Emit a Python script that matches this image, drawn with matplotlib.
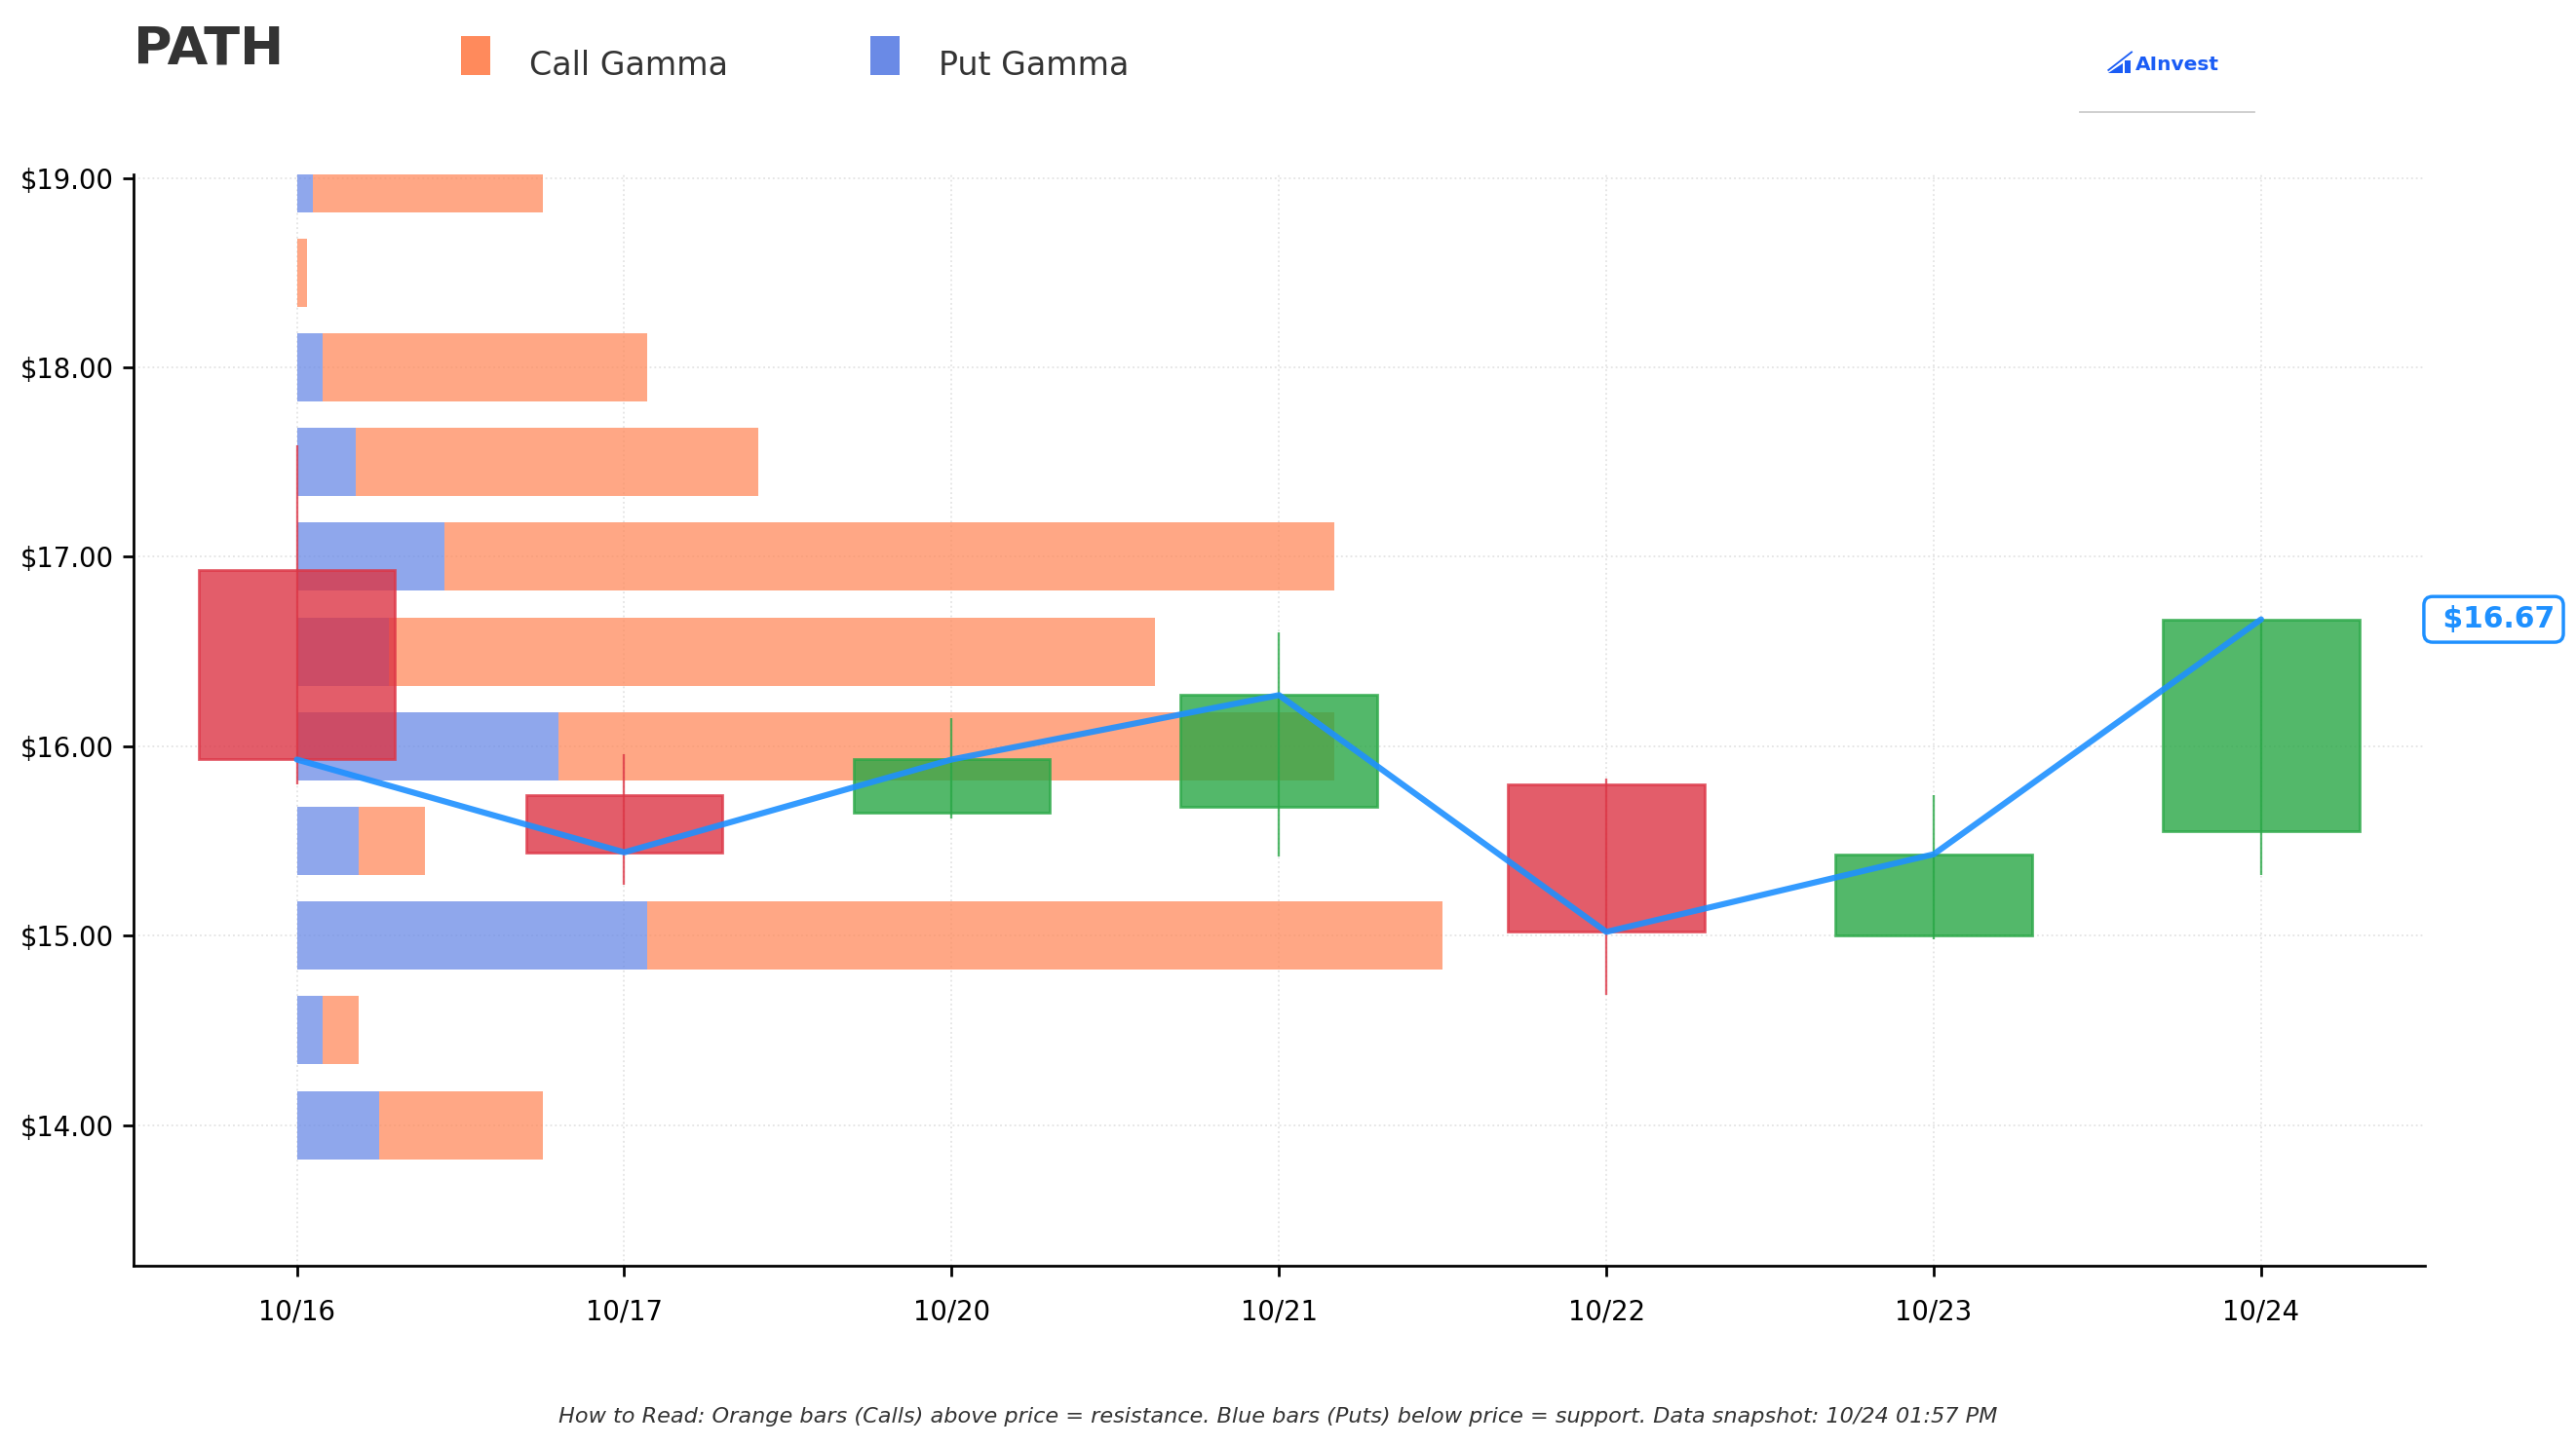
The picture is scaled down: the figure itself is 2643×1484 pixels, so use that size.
import matplotlib
matplotlib.use("Agg")
import matplotlib.pyplot as plt
import matplotlib.transforms as mtransforms
from matplotlib.patches import Patch, Rectangle, Polygon
from matplotlib.lines import Line2D
from matplotlib.legend_handler import HandlerPatch

# ---------------- data ----------------
dates = ["10/16", "10/17", "10/20", "10/21", "10/22", "10/23", "10/24"]
opens = [16.93, 15.74, 15.65, 15.68, 15.80, 15.00, 15.55]
highs = [17.59, 15.96, 16.15, 16.60, 15.83, 15.74, 16.67]
lows = [15.80, 15.27, 15.62, 15.42, 14.69, 14.98, 15.32]
closes = [15.93, 15.44, 15.93, 16.27, 15.02, 15.43, 16.67]

strikes = [19.0, 18.5, 18.0, 17.5, 17.0, 16.5, 16.0, 15.5, 15.0, 14.5, 14.0]
put_gamma = [0.05, 0.00, 0.08, 0.18, 0.45, 0.28, 0.80, 0.19, 1.07, 0.08, 0.25]
call_gamma = [0.70, 0.03, 0.99, 1.23, 2.72, 2.34, 2.37, 0.20, 2.43, 0.11, 0.50]

yticks = [14.0, 15.0, 16.0, 17.0, 18.0, 19.0]
last_price = 16.67
ticker = "PATH"
footer = ("How to Read: Orange bars (Calls) above price = resistance. "
          "Blue bars (Puts) below price = support. Data snapshot: 10/24 01:57 PM")

# ---------------- style ----------------
CALL = "#FF8A5C"
PUT = "#6A8AE6"
UP = "#28a745"
DOWN = "#dc3545"
LINE = "#1E90FF"

fig = plt.figure(figsize=(2643 / 165, 1484 / 165), dpi=165)
ax = fig.add_axes([0.0517, 0.125, 0.8896, 0.7545])

x = list(range(len(dates)))

# gamma bars (horizontal, anchored at first date)
ax.barh(strikes, put_gamma, height=0.36, left=0, color=PUT, alpha=0.75,
        zorder=2, linewidth=0)
ax.barh(strikes, call_gamma, height=0.36, left=put_gamma, color=CALL,
        alpha=0.75, zorder=2, linewidth=0)

# candles
w = 0.6
for xi, o, h, l, c in zip(x, opens, highs, lows, closes):
    col = UP if c >= o else DOWN
    ax.vlines(xi, l, h, color=col, alpha=0.8, linewidth=1.0, zorder=3)
    ax.add_patch(Rectangle((xi - w / 2, min(o, c)), w, abs(c - o),
                           facecolor=col, edgecolor=col, alpha=0.8,
                           linewidth=1.2, zorder=3))

# close line
ax.plot(x, closes, color=LINE, linewidth=2.7, alpha=0.9, zorder=4,
        solid_capstyle="round")

ax.set_xlim(-0.5, 6.5)
ax.set_ylim(13.26, 19.02)
ax.set_xticks(x)
ax.set_xticklabels(dates)
ax.set_yticks(yticks)
ax.set_yticklabels([f"${v:.2f}" for v in yticks])
ax.tick_params(axis="both", labelsize=12, length=5, width=1.2)
ax.tick_params(axis="x", pad=10)
for s in ["top", "right"]:
    ax.spines[s].set_visible(False)
for s in ["left", "bottom"]:
    ax.spines[s].set_linewidth(1.2)
ax.grid(True, linestyle=":", color="#e4e4e4", linewidth=0.8, zorder=0)
ax.set_axisbelow(True)

# price label
trans = mtransforms.blended_transform_factory(ax.transAxes, ax.transData)
ax.text(1.0034, last_price, f" ${last_price:.2f}", transform=trans,
        ha="left", va="center", fontsize=13, fontweight="bold", color=LINE,
        bbox=dict(boxstyle="round,pad=0.3", fc="white", ec=LINE, lw=1.5),
        zorder=6, clip_on=False)

# title
fig.text(0.0517, 0.966, ticker, fontsize=23.5, fontweight="bold",
         color="#333333", ha="left", va="center")


# legend with tall narrow swatches sitting on the text baseline
def tall_patch(legend, orig_handle, xdescent, ydescent, width, height, fontsize):
    return Rectangle((-xdescent, 0.02 * fontsize), width, 1.2 * fontsize)


handles = [Patch(facecolor=CALL, edgecolor="none"),
           Patch(facecolor=PUT, edgecolor="none")]
fig.legend(handles, ["Call Gamma", "Put Gamma"], loc="upper left",
           bbox_to_anchor=(0.1676, 0.987), ncol=2, frameon=False,
           fontsize=14.5, handlelength=0.9, handleheight=1.2,
           handletextpad=1.2, columnspacing=4.4, labelcolor="#333333",
           handler_map={Patch: HandlerPatch(patch_func=tall_patch)})

# logo: small rising-bars icon with arrow, then the wordmark
LOGO = "#1A5CF5"
fx, fy = 0.8185, 0.9495
fig.patches.append(Polygon([[fx, fy], [fx + 0.0055, fy], [fx + 0.0055, fy + 0.007]],
                           closed=True, transform=fig.transFigure,
                           facecolor=LOGO, edgecolor="none"))
fig.patches.append(Rectangle((fx + 0.0065, fy), 0.002, 0.0085,
                             transform=fig.transFigure, facecolor=LOGO,
                             edgecolor="none"))
fig.lines.append(Line2D([fx, fx + 0.009], [fy + 0.002, fy + 0.0145],
                        transform=fig.transFigure, color=LOGO, lw=0.8))
fig.text(0.829, 0.955, "AInvest", fontsize=8.8, fontweight="bold",
         color=LOGO, ha="left", va="center")
fig.lines.append(Line2D([0.8075, 0.875], [0.9225, 0.9225],
                        transform=fig.transFigure, color="#cccccc", lw=0.8))

# footer
fig.text(0.496, 0.020, footer, ha="center", va="center", fontsize=9.75,
         style="italic", color="#333333")

fig.savefig("out.png", dpi=165)
